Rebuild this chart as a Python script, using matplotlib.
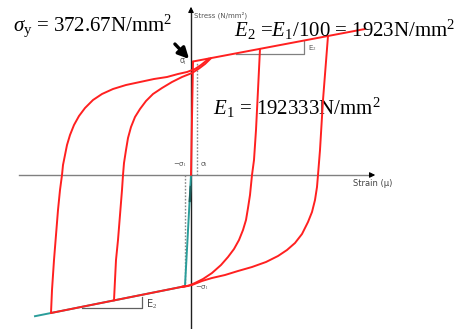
import matplotlib
matplotlib.use("Agg")
import matplotlib.pyplot as plt

plt.rcParams['mathtext.fontset'] = 'custom'
plt.rcParams['mathtext.rm'] = 'Liberation Serif'
plt.rcParams['mathtext.it'] = 'Liberation Serif:italic'
plt.rcParams['mathtext.bf'] = 'Liberation Serif:bold'

# ---- data (strain, stress) read from the schematic ----
elastic_up_x = [0, 2]
elastic_up_y = [0, 113.5]
hard_up_x = [2, 174]
hard_up_y = [113.5, 146]

teal_elastic_x = [0, -6]
teal_elastic_y = [0, -111]
teal_low_x = [-156, -6]
teal_low_y = [-141.2, -111.2]

hard_low_x = [-140, -6]
hard_low_y = [-138, -111.2]

inner_up_x = [-77, -76, -75, -73, -71, -69, -68, -67, -65, -63, -60, -56, -51,
              -45, -38, -29, -19, -9, 1, 8, 14, 20]
inner_up_y = [-125.4, -105, -85, -65, -40, -15, 0, 12, 25, 37, 48, 58, 66,
              74, 81, 87, 93, 98, 102, 106.5, 111, 116.8]
outer_up_x = [-140, -139, -137, -135, -133, -131, -129, -128, -126, -124, -121,
              -117, -112, -106, -98, -89, -78, -65, -51, -37, -24, -13, -4, 4,
              10, 18]
outer_up_y = [-138, -115, -85, -60, -35, -15, 0, 10, 20, 30, 40,
              50, 59, 67, 75, 81, 86, 90, 93, 96, 98, 101, 103, 106,
              110, 116.4]

inner_dn_x = [69, 67, 65, 63, 61, 60, 59, 57, 55, 52, 48, 43, 37, 30, 21, 12,
              4, -3, -10]
inner_dn_y = [126.1, 85, 45, 15, 0, -10, -20, -33, -45, -55, -65, -74, -82,
              -90, -98, -104, -108, -111, -112]
outer_dn_x = [137, 132, 129, 127, 126, 124, 121, 117, 111, 104, 96, 87, 75, 61,
              47, 34, 21, 11, 1, -10]
outer_dn_y = [139, 75, 25, 0, -12, -25, -37, -47, -59, -68, -75, -81, -87, -92,
              -96, -100, -103, -106, -110, -112]

tri_up_x = [45, 113, 113]
tri_up_y = [121.5, 121.5, 134]
tri_low_x = [-109, -49, -49]
tri_low_y = [-133, -133, -122]

dot_up_x = [6, 6]
dot_up_y = [0, 113]
dot_low_x = [-6, -6]
dot_low_y = [0, -110]

fig = plt.figure(figsize=(4.62, 3.29), dpi=100)
ax = fig.add_axes([0, 0, 1, 1])
ax.set_xlim(-191, 271)
ax.set_ylim(-154, 175)
ax.axis('off')

red = '#ff2020'
teal = '#2a9d9a'

# axes
ax.plot([-172, 181], [0, 0], color='#808080', lw=1.0, zorder=1)
ax.annotate('', xy=(187, 0), xytext=(178, 0),
            arrowprops=dict(arrowstyle='-|>', color='black', lw=0.8, mutation_scale=8))
ax.plot([0, 0], [-160, 162], color='#202020', lw=1.0, zorder=1)
ax.annotate('', xy=(0, 171), xytext=(0, 160),
            arrowprops=dict(arrowstyle='-|>', color='black', lw=0.8, mutation_scale=8))

# dotted guides
ax.plot(dot_up_x, dot_up_y, color='#888888', lw=1.0, ls=(0, (1.2, 1.2)), zorder=2)
ax.plot(dot_low_x, dot_low_y, color='#888888', lw=1.0, ls=(0, (1.2, 1.2)), zorder=2)

# triangles
ax.plot(tri_up_x, tri_up_y, color='#808080', lw=0.9, zorder=2)
ax.plot(tri_low_x, tri_low_y, color='#606060', lw=0.9, zorder=2)

# teal initial branches
ax.plot(teal_elastic_x, teal_elastic_y, color=teal, lw=1.4, zorder=3)
ax.plot([-0.3, -1.2], [-12, -26], color='#1f5f5c', lw=1.6, zorder=3)
ax.plot(teal_low_x, teal_low_y, color=teal, lw=1.4, zorder=3)

# red loops
kw = dict(color=red, lw=1.4, zorder=4, solid_joinstyle='round', solid_capstyle='round')
ax.plot(elastic_up_x, elastic_up_y, **kw)
ax.plot(hard_up_x, hard_up_y, **kw)
ax.plot(hard_low_x, hard_low_y, **kw)
ax.plot(inner_up_x, inner_up_y, **kw)
ax.plot(outer_up_x, outer_up_y, **kw)
ax.plot(inner_dn_x, inner_dn_y, **kw)
ax.plot(outer_dn_x, outer_dn_y, **kw)

# small labels
ax.text(3, 160, 'Stress (N/mm²)', fontsize=5, color='#555555', va='center', ha='left')
ax.text(162, -8, 'Strain (μ)', fontsize=6, color='#444444', va='center', ha='left')
ax.text(-4, 113, 'σ$_\\mathrm{l}$', fontsize=5.5, color='#555555', ha='right', va='center')
ax.text(-4, 10, '−σ$_\\mathrm{l}$', fontsize=5, color='#555555', ha='right', va='center')
ax.text(9, 10, 'σ$_\\mathrm{l}$', fontsize=5, color='#555555', ha='left', va='center')
ax.text(4, -113, '−σ$_\\mathrm{l}$', fontsize=5, color='#555555', ha='left', va='center')
ax.text(117, 127, 'E$_2$', fontsize=5, color='#555555', ha='left', va='center')
ax.text(-45, -129, 'E$_2$', fontsize=7, color='#444444', ha='left', va='center')

# big annotations
ax.text(-178, 144, r'$\sigma_{\mathrm{y}}$ = 372.67N/mm$^2$', fontsize=15,
        family='Liberation Serif', ha='left', va='baseline')
ax.text(43, 138, r'$E_2$ =$E_1$/100 = 1923N/mm$^2$', fontsize=15,
        family='Liberation Serif', ha='left', va='baseline', zorder=5)
ax.text(22, 60, r'$E_1$ = 192333N/mm$^2$', fontsize=15,
        family='Liberation Serif', ha='left', va='baseline')

# arrow to yield point
ax.annotate('', xy=(0, 114), xytext=(-18, 133),
            arrowprops=dict(arrowstyle='-|>', color='black', lw=2.4, mutation_scale=16))

fig.savefig('out.png', dpi=100)
